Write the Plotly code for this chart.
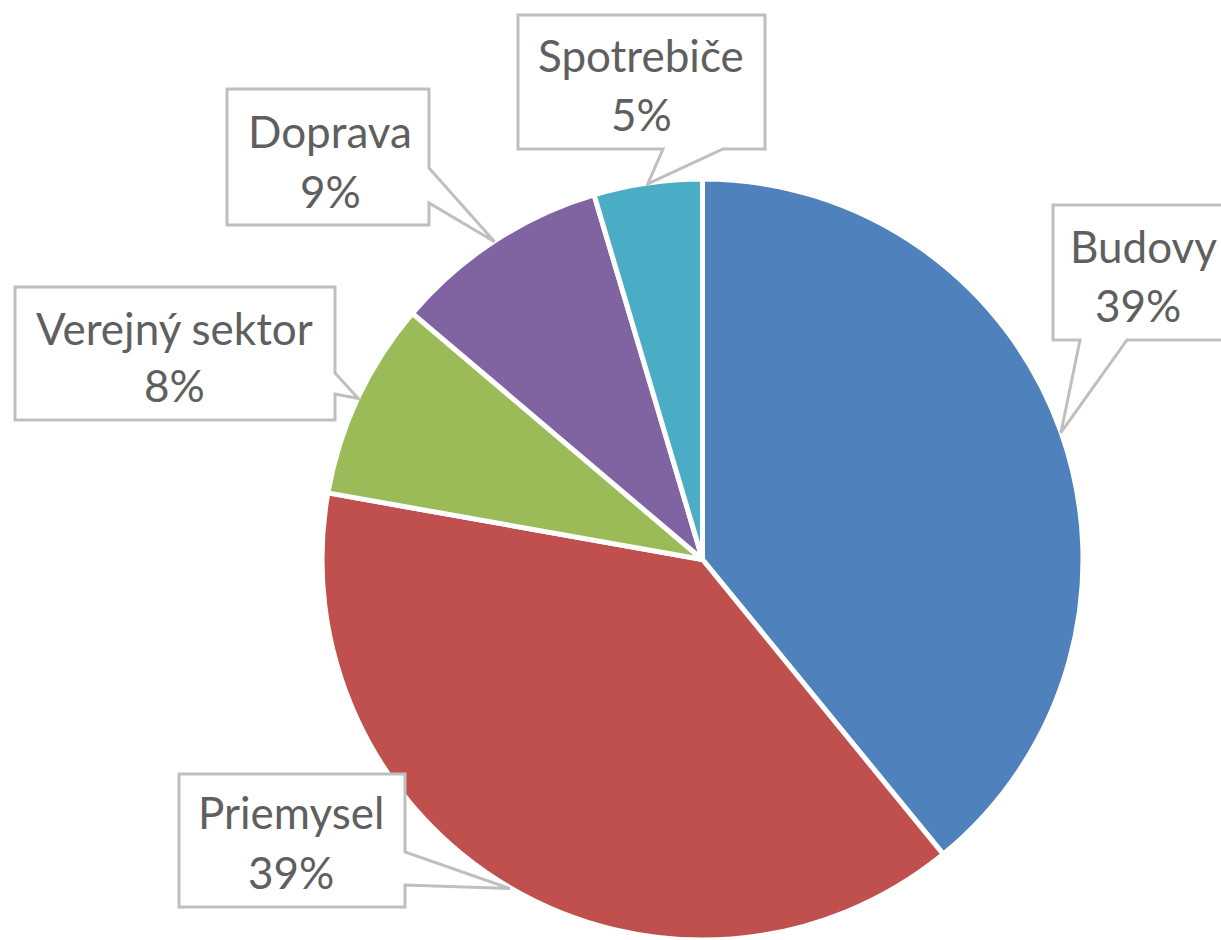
import math
import plotly.graph_objects as go

# ---- data ----
categories = ["Budovy", "Priemysel", "Verejný sektor", "Doprava", "Spotrebiče"]
values = [39.1, 38.7, 8.4, 9.2, 4.6]
colors = ["#4F81BD", "#C0504D", "#9BBB59", "#8064A2", "#4BACC6"]

W, H = 1221, 940
# pie placement (pixels)
CX, CY, R = 702.5, 560.5, 380.5

# callout boxes: (left, top, right, bottom), wedge side, wedge base (a, b), text centers
callouts = {
    "Budovy": dict(box=(1053, 205, 1245, 340), side="bottom", base=(1080, 1127),
                   t1=(1143, 246), t2=(1138, 305)),
    "Priemysel": dict(box=(179, 774, 405, 907), side="right", base=(852, 885),
                      t1=(291, 812), t2=(291, 872)),
    "Verejný sektor": dict(box=(15, 287, 335, 420), side="right", base=(373, 394),
                           t1=(174, 328), t2=(174, 385)),
    "Doprava": dict(box=(227, 89, 429, 225), side="right", base=(168, 203),
                    t1=(330, 131), t2=(330, 191)),
    "Spotrebiče": dict(box=(518, 15, 765, 149), side="bottom", base=(663, 723),
                       t1=(641, 55), t2=(641, 114)),
}

fig = go.Figure(go.Pie(
    labels=categories, values=values, sort=False, direction="clockwise",
    rotation=0, marker=dict(colors=colors, line=dict(color="white", width=5)),
    textinfo="none", hoverinfo="label+percent", showlegend=False,
    domain=dict(x=[(CX - R) / W, (CX + R) / W], y=[0, 2 * R / H]),
))


def px(x, y):
    return f"{x / W:.5f},{1 - y / H:.5f}"


total = sum(values)
cum = 0.0
shapes, annotations = [], []
for cat, v in zip(categories, values):
    mid = (cum + v / 2) / total * 2 * math.pi
    cum += v
    tipx = CX + R * math.sin(mid)
    tipy = CY - R * math.cos(mid)
    c = callouts[cat]
    l, t, r, b = c["box"]
    a1, a2 = c["base"]
    if c["side"] == "bottom":
        pts = [(l, t), (r, t), (r, b), (a2, b), (tipx, tipy), (a1, b), (l, b)]
    else:
        pts = [(l, t), (r, t), (r, a1), (tipx, tipy), (r, a2), (r, b), (l, b)]
    path = "M " + " L ".join(px(x, y) for x, y in pts) + " Z"
    shapes.append(dict(type="path", xref="paper", yref="paper", path=path,
                       fillcolor="white", line=dict(color="#BFBFBF", width=3),
                       layer="above"))
    pct = f"{round(v / total * 100)}%"
    for (tx, ty), txt in ((c["t1"], cat), (c["t2"], pct)):
        annotations.append(dict(x=tx / W, y=1 - ty / H, xref="paper", yref="paper",
                                text=txt, showarrow=False, xanchor="center",
                                yanchor="middle",
                                font=dict(family="Lato", size=44, color="#5F5F5F")))

fig.update_layout(
    width=W, height=H, margin=dict(l=0, r=0, t=0, b=0),
    paper_bgcolor="white", plot_bgcolor="white",
    shapes=shapes, annotations=annotations,
)

fig.write_html("out.html", config={"displayModeBar": False},
               post_script="document.body.style.margin='0';")
